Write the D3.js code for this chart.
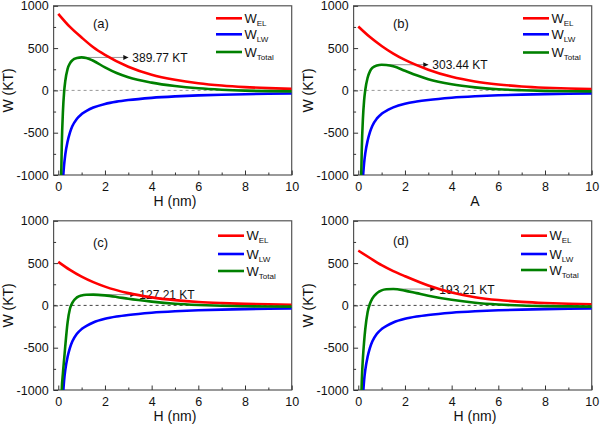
<!DOCTYPE html>
<html><head><meta charset="utf-8">
<script src="https://cdn.jsdelivr.net/npm/d3@7/dist/d3.min.js"></script>
<style>body{margin:0;background:#fff}svg{display:block;font-family:"Liberation Sans",Arial,sans-serif}</style>
</head><body><svg id="c" width="600" height="429"></svg>
<script>
// ---- data ----
const panelLabels = ["(a)", "(b)", "(c)", "(d)"];
const xTitles = ["H (nm)", "A", "H (nm)", "H (nm)"];
const yTitle = "W (KT)";
const seriesNames = ["EL", "LW", "Total"];
const peakLabels = ["389.77 KT", "303.44 KT", "127.21 KT", "193.21 KT"];
const peakValues = [389.77, 303.44, 127.21, 193.21];
const peakH = [1.0, 1.15, 1.5, 1.4];
const xTicks = [0, 2, 4, 6, 8, 10];
const yTicks = [-1000, -500, 0, 500, 1000];

const hEL = [0, 0.5, 1, 1.5, 2, 3, 4, 5, 6, 7, 8, 9, 10];
const elA = [905, 750, 625, 510, 420, 280, 185, 125, 84, 57, 39, 27, 18];
const elB = [755, 630, 525, 435, 360, 245, 160, 105, 70, 47, 32, 22, 15];
const elC = [515, 420, 340, 275, 222, 145, 95, 62, 40, 27, 18, 12, 8];
const elD = [648, 560, 475, 405, 345, 235, 152, 97, 63, 42, 28, 19, 13];

const hLW = [0.2, 0.25, 0.3, 0.4, 0.5, 0.6, 0.8, 1, 1.25, 1.5, 2, 2.5, 3, 4, 5, 6, 7, 8, 9, 10];
const lwA = [-1060, -880, -760, -605, -500, -425, -335, -280, -235, -203, -160, -133, -114, -88, -71, -59, -51, -45, -40, -36];
const lwB = [-1030, -860, -745, -595, -493, -420, -331, -277, -233, -201, -158, -132, -113, -87, -70, -58, -50, -44, -39, -35];
const lwC = [-1070, -885, -765, -608, -503, -428, -336, -280, -235, -202, -159, -132, -113, -87, -70, -58, -50, -44, -39, -35];
const lwD = [-1070, -885, -765, -608, -503, -428, -336, -280, -235, -202, -159, -132, -113, -87, -70, -58, -50, -44, -39, -35];

const hTot = [0.12, 0.15, 0.2, 0.25, 0.3, 0.4, 0.5, 0.6, 0.8, 1, 1.2, 1.5, 2, 2.5, 3, 4, 5, 6, 7, 8, 9, 10];
const totA = [-1100, -650, -250, -20, 110, 255, 320, 355, 383, 390, 384, 350, 272, 205, 155, 92, 52, 25, 8, -3, -9, -12];
const totB = [-1100, -700, -330, -120, 5, 150, 225, 265, 295, 303, 300, 285, 232, 178, 132, 72, 36, 14, 2, -6, -10, -12];
const totC = [-1300, -1000, -800, -640, -480, -200, -40, 30, 95, 118, 125, 127, 118, 100, 78, 45, 20, 5, -5, -10, -13, -15];
const totD = [-1200, -900, -620, -430, -280, -80, 20, 80, 145, 178, 190, 193, 175, 145, 115, 66, 32, 11, -2, -9, -12, -14];

// ---- layout ----
const panels = [
  {ox: 0, oy: 0, el: elA, lw: lwA, tot: totA, legX: 216, legY: [18.3, 34.3, 52], labX: 93, labY: 28, arrowH: 3.0, zc: "#999"},
  {ox: 300, oy: 0, el: elB, lw: lwB, tot: totB, legX: 223, legY: [18.3, 34.3, 52.5], labX: 93, labY: 28, arrowH: 3.0, zc: "#999"},
  {ox: 0, oy: 215, el: elC, lw: lwC, tot: totC, legX: 218, legY: [20.7, 39, 56], labX: 93, labY: 31.5, arrowH: 3.3, zc: "#444"},
  {ox: 300, oy: 215, el: elD, lw: lwD, tot: totD, legX: 221, legY: [20.7, 39, 55], labX: 93, labY: 29.5, arrowH: 3.3, zc: "#444"}
];
const colors = ["#ff0000", "#0000ff", "#008000"];
const L = 53.6, R = 291.7, T = 5.8, B = 175;

const svg = d3.select("#c");
const defs = svg.append("defs");
defs.append("marker").attr("id", "ah").attr("viewBox", "0 0 10 10").attr("refX", 10).attr("refY", 5)
  .attr("markerWidth", 7).attr("markerHeight", 5).attr("markerUnits", "userSpaceOnUse").attr("orient", "auto")
  .append("path").attr("d", "M0,0L10,5L0,10Z").attr("fill", "#111");

panels.forEach((p, i) => {
  const g = svg.append("g").attr("transform", `translate(${p.ox},${p.oy})`);
  const x = d3.scaleLinear().domain([-0.2, 10]).range([L, R]);
  const y = d3.scaleLinear().domain([-1000, 1000]).range([B, T]);
  const cid = "clip" + i;
  defs.append("clipPath").attr("id", cid).append("rect").attr("x", p.ox + L).attr("y", p.oy + T).attr("width", R - L).attr("height", B - T);

  // zero line
  g.append("line").attr("x1", L).attr("x2", R).attr("y1", y(0)).attr("y2", y(0))
    .attr("stroke", p.zc).attr("stroke-width", 1).attr("stroke-dasharray", "3,3");

  const line = d3.line().x(d => x(d[0])).y(d => y(d[1])).curve(d3.curveMonotoneX);
  const sets = [[hEL, p.el], [hLW, p.lw], [hTot, p.tot]];
  const cg = svg.append("g").attr("clip-path", `url(#${cid})`).append("g").attr("transform", `translate(${p.ox},${p.oy})`);
  sets.forEach((s, k) => {
    cg.append("path").datum(s[0].map((h, j) => [h, s[1][j]])).attr("d", line)
      .attr("fill", "none").attr("stroke", colors[k]).attr("stroke-width", 2.6);
  });

  // frame
  g.append("rect").attr("x", L).attr("y", T).attr("width", R - L).attr("height", B - T)
    .attr("fill", "none").attr("stroke", "#555").attr("stroke-width", 1.2);

  // axes (ticks inward)
  const xa = d3.axisBottom(x).tickValues(d3.range(0, 11, 1)).tickSize(-3)
    .tickFormat(d => xTicks.includes(d) ? d : "");
  const gx = g.append("g").attr("transform", `translate(0,${B})`).call(xa);
  gx.select(".domain").remove();
  gx.selectAll(".tick line").attr("stroke", "#333").attr("y2", d => xTicks.includes(d) ? -4.5 : -2.5);
  gx.selectAll(".tick text").attr("y", 7).attr("font-size", 12.5).attr("fill", "#111").attr("font-family", "Liberation Sans, Arial");

  const ya = d3.axisLeft(y).tickValues(d3.range(-1000, 1001, 250)).tickSize(-3)
    .tickFormat(d => yTicks.includes(d) ? d : "");
  const gy = g.append("g").attr("transform", `translate(${L},0)`).call(ya);
  gy.select(".domain").remove();
  gy.selectAll(".tick line").attr("stroke", "#333").attr("x2", d => yTicks.includes(d) ? 4.5 : 2.5);
  gy.selectAll(".tick text").attr("x", -5).attr("font-size", 12.5).attr("fill", "#111").attr("font-family", "Liberation Sans, Arial");

  // titles
  g.append("text").attr("x", (x(0) + x(10)) / 2).attr("y", 206).attr("text-anchor", "middle")
    .attr("font-size", 14).attr("fill", "#111").text(xTitles[i]);
  g.append("text").attr("transform", `translate(13,${(T + B) / 2}) rotate(-90)`).attr("text-anchor", "middle")
    .attr("font-size", 14).attr("fill", "#111").text(yTitle);

  // panel label
  g.append("text").attr("x", p.labX).attr("y", p.labY).attr("font-size", 13).attr("fill", "#111").text(panelLabels[i]);

  // legend
  seriesNames.forEach((n, k) => {
    const ly = p.legY[k];
    g.append("line").attr("x1", p.legX).attr("x2", p.legX + 26).attr("y1", ly).attr("y2", ly)
      .attr("stroke", colors[k]).attr("stroke-width", 2.6);
    const t = g.append("text").attr("x", p.legX + 28.5).attr("y", ly + 4.5).attr("font-size", 13).attr("fill", "#111");
    t.append("tspan").text("W");
    t.append("tspan").attr("font-size", 8).attr("dy", 3).text(n);
  });

  // annotation
  const yy = y(peakValues[i]);
  g.append("line").attr("x1", x(peakH[i])).attr("x2", x(p.arrowH)).attr("y1", yy).attr("y2", yy)
    .attr("stroke", "#777").attr("stroke-width", 0.8).attr("marker-end", "url(#ah)");
  g.append("text").attr("x", x(p.arrowH) + 4).attr("y", yy + 4.5).attr("font-size", 12).attr("fill", "#111").text(peakLabels[i]);
});
</script></body></html>
